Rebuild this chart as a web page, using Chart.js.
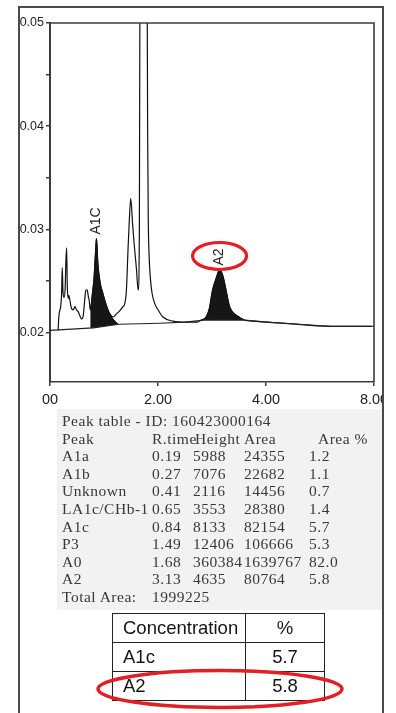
<!DOCTYPE html>
<html>
<head>
<meta charset="utf-8">
<script src="https://cdn.jsdelivr.net/npm/chart.js@4.4.1/dist/chart.umd.min.js"></script>
<style>
  html, body { margin: 0; padding: 0; background: #fff; }
  body { width: 396px; height: 713px; position: relative; overflow: hidden; font-family: "Liberation Sans", Arial, sans-serif; }
  #chartBox { position: absolute; left: 20px; top: 8px; width: 362px; height: 402px; }
  #frame { position: absolute; left: 18px; top: 6px; width: 366px; height: 720px; box-sizing: border-box; border: 2px solid #4a4a4a; border-bottom: none; pointer-events: none; }
  #scan { position: absolute; left: 57px; top: 409px; width: 325px; height: 201px; background: #f2f2f2; }
  .prow { position: absolute; left: 0; width: 396px; height: 18px; line-height: 18px; font-family: "Liberation Serif", "DejaVu Serif", serif; font-size: 15.5px; color: #383838; letter-spacing: 0.5px; white-space: nowrap; }
  .prow span { position: absolute; top: 0; }
  #conc { position: absolute; left: 112px; top: 613px; border-collapse: collapse; font-size: 18.5px; color: #151515; }
  #conc td { border: 1.5px solid #222; height: 28px; padding: 0; line-height: 28px; }
  #conc td.n { width: 122px; padding-left: 10px; text-align: left; }
  #conc td.v { width: 78px; text-align: center; }
  #ring { position: absolute; left: 0; top: 0; }
</style>
</head>
<body>
<div id="chartBox"><canvas id="chrom"></canvas></div>
<div id="scan"></div>
<div id="peakTable"></div>
<table id="conc"></table>
<svg id="ring" width="396" height="713"><ellipse cx="220" cy="689" rx="122" ry="18.5" fill="none" stroke="#e31e24" stroke-width="3.5"/></svg>
<div id="frame"></div>

<script>
// chromatogram trace (retention time in min, absorbance)
const traceX = [0.15, 0.165, 0.18, 0.20, 0.215, 0.227, 0.24, 0.258, 0.28, 0.295, 0.308, 0.32, 0.338, 0.35, 0.369,
  0.40, 0.43, 0.461, 0.49, 0.523, 0.555, 0.584, 0.615, 0.64, 0.664, 0.689, 0.71, 0.726, 0.745,
  0.757, 0.79, 0.812, 0.84, 0.861, 0.885, 0.923, 0.984, 1.058, 1.12, 1.17, 1.23, 1.29, 1.35, 1.384,
  1.415, 1.446, 1.47, 1.495, 1.53, 1.56, 1.60, 1.633, 1.655, 1.665, 1.73, 1.80, 1.81, 1.82, 1.835,
  1.86, 1.89, 1.94, 2.0, 2.09, 2.28, 2.52, 2.73, 2.80, 2.89, 2.95, 3.01, 3.08, 3.14, 3.20, 3.26,
  3.32, 3.38, 3.47, 3.60, 3.75, 4.31, 5.17, 5.96];
const traceY = [0.0202, 0.0216, 0.0221, 0.0226, 0.0238, 0.0263, 0.0240, 0.0234, 0.0242, 0.0270, 0.0282, 0.0245, 0.0233, 0.0236, 0.0231,
  0.0223, 0.0222, 0.0225, 0.0222, 0.0220, 0.0216, 0.0213, 0.0216, 0.0230, 0.0241, 0.0241, 0.0235, 0.0231, 0.0222,
  0.0224, 0.0240, 0.0250, 0.0275, 0.0291, 0.0268, 0.0250, 0.0237, 0.0224, 0.0217, 0.0215, 0.0218, 0.0221, 0.0225, 0.0228,
  0.0241, 0.0282, 0.0310, 0.0330, 0.0305, 0.0285, 0.0262, 0.0241, 0.0300, 0.0520, 0.3600, 0.0520, 0.0380, 0.0310, 0.0275,
  0.0252, 0.0238, 0.0228, 0.0222, 0.0215, 0.0211, 0.0210, 0.0210, 0.0212, 0.0215, 0.0223, 0.0241, 0.0253, 0.0261, 0.0255, 0.0241,
  0.0226, 0.0220, 0.0216, 0.0212, 0.0211, 0.0209, 0.0206, 0.0206];

// drawn baseline under the peaks
const baseX = [0.0, 0.8, 1.27, 2.03, 2.5, 2.85, 3.6, 4.3, 5.2, 6.0];
const baseY = [0.0202, 0.02045, 0.0208, 0.0209, 0.0210, 0.0212, 0.0212, 0.0209, 0.0206, 0.0206];

// integrated (black) peaks
const a1cX = [0.745, 0.757, 0.79, 0.812, 0.84, 0.861, 0.885, 0.923, 0.984, 1.058, 1.12, 1.17, 1.26];
const a1cY = [0.0222, 0.0224, 0.0240, 0.0250, 0.0275, 0.0291, 0.0268, 0.0250, 0.0237, 0.0224, 0.0217, 0.0213, 0.0208];
const a2X = [2.82, 2.89, 2.95, 3.01, 3.08, 3.14, 3.20, 3.26, 3.32, 3.38, 3.47, 3.60];
const a2Y = [0.0212, 0.0215, 0.0223, 0.0241, 0.0253, 0.0261, 0.0255, 0.0241, 0.0226, 0.0220, 0.0216, 0.0212];

const xTicks = [0, 2, 4, 6];
const xTickLabels = ["00", "2.00", "4.00", "8.00"];
const yTicks = [0.02, 0.025, 0.03, 0.035, 0.04, 0.045, 0.05];
const yTickLabels = ["0.02", "", "0.03", "", "0.04", "", "0.05"];

const peakLabels = ["A1C", "A2"];
const peakLabelX = [0.861, 3.14];
const peakLabelY = [0.0291, 0.0261];

// peak table
const peakNames = ["A1a", "A1b", "Unknown", "LA1c/CHb-1", "A1c", "P3", "A0", "A2"];
const peakRT = ["0.19", "0.27", "0.41", "0.65", "0.84", "1.49", "1.68", "3.13"];
const peakHeight = ["5988", "7076", "2116", "3553", "8133", "12406", "360384", "4635"];
const peakArea = ["24355", "22682", "14456", "28380", "82154", "106666", "1639767", "80764"];
const peakPct = ["1.2", "1.1", "0.7", "1.4", "5.7", "5.3", "82.0", "5.8"];

const concNames = ["A1c", "A2"];
const concValues = ["5.7", "5.8"];

const pts = (xs, ys) => xs.map((x, i) => ({ x, y: ys[i] }));

const decor = {
  id: "decor",
  afterDatasetsDraw(chart) {
    const { ctx, chartArea: a, scales: { x, y } } = chart;
    ctx.save();
    ctx.strokeStyle = "#3c3c3c";
    ctx.lineWidth = 1.6;
    ctx.beginPath();
    ctx.moveTo(a.left, a.top);
    ctx.lineTo(a.right, a.top);
    ctx.lineTo(a.right, a.bottom);
    ctx.stroke();

    ctx.font = '14px "Liberation Sans", Arial, sans-serif';
    ctx.fillStyle = "#222";
    peakLabels.forEach((t, i) => {
      const px = x.getPixelForValue(peakLabelX[i]);
      const py = y.getPixelForValue(peakLabelY[i]) - 4;
      const w = ctx.measureText(t).width;
      ctx.save();
      ctx.translate(px, py);
      ctx.rotate(-Math.PI / 2);
      ctx.textAlign = "left";
      ctx.textBaseline = "middle";
      ctx.fillText(t, 0, 0);
      ctx.restore();
      if (t === "A2") {
        ctx.strokeStyle = "#e31e24";
        ctx.lineWidth = 3.2;
        ctx.beginPath();
        ctx.ellipse(px, py - w / 2 - 1, 27, 13.5, 0, 0, Math.PI * 2);
        ctx.stroke();
      }
    });
    ctx.restore();
  }
};

new Chart(document.getElementById("chrom"), {
  type: "line",
  data: {
    datasets: [
      { data: pts(baseX, baseY), borderColor: "#222", borderWidth: 1.1, pointRadius: 0, fill: false },
      { data: pts(a1cX, a1cY), borderColor: "#111", backgroundColor: "#161616", borderWidth: 1, pointRadius: 0, fill: 0, cubicInterpolationMode: "monotone" },
      { data: pts(a2X, a2Y), borderColor: "#111", backgroundColor: "#161616", borderWidth: 1, pointRadius: 0, fill: 0, cubicInterpolationMode: "monotone" },
      { data: pts(traceX, traceY), borderColor: "#111", borderWidth: 1.2, pointRadius: 0, fill: false, cubicInterpolationMode: "monotone" },
    ],
  },
  options: {
    responsive: true,
    maintainAspectRatio: false,
    animation: false,
    devicePixelRatio: 1,
    layout: { padding: { top: 15, right: 8, left: 0, bottom: 0 } },
    plugins: { legend: { display: false }, tooltip: { enabled: false } },
    scales: {
      x: {
        type: "linear",
        min: 0,
        max: 6,
        afterBuildTicks: (s) => { s.ticks = xTicks.map((v) => ({ value: v })); },
        afterFit: (s) => { s.height = 28; s.paddingLeft = 0; s.paddingRight = 0; },
        ticks: {
          autoSkip: false,
          maxRotation: 0,
          padding: 5,
          color: "#222",
          font: { family: "Liberation Sans", size: 14.5 },
          callback: (v, i) => xTickLabels[i],
        },
        grid: { drawOnChartArea: false, tickLength: 4, color: "#3c3c3c", lineWidth: 1.5 },
        border: { color: "#3c3c3c", width: 1.6 },
      },
      y: {
        min: 0.0152,
        max: 0.05,
        afterBuildTicks: (s) => { s.ticks = yTicks.map((v) => ({ value: v })); },
        afterFit: (s) => { s.width = 30; },
        ticks: {
          autoSkip: false,
          padding: 2,
          color: "#222",
          font: { family: "Liberation Sans", size: 12.5 },
          callback: (v, i) => yTickLabels[i],
        },
        grid: { drawOnChartArea: false, tickLength: 4, color: "#3c3c3c", lineWidth: 1.5 },
        border: { color: "#3c3c3c", width: 2 },
      },
    },
  },
  plugins: [decor],
});

// peak table rows
const table = document.getElementById("peakTable");
const colLeft = [62, 152, 193, 244, 309];
function addRow(y, cells, lefts) {
  const row = document.createElement("div");
  row.className = "prow";
  row.style.top = (y - 9) + "px";
  cells.forEach((c, i) => {
    const s = document.createElement("span");
    s.textContent = c;
    s.style.left = lefts[i] + "px";
    row.appendChild(s);
  });
  table.appendChild(row);
}
const rowStep = 17.6;
addRow(421, ["Peak table - ID: 160423000164"], [62]);
addRow(421 + rowStep, ["Peak", "R.time", "Height", "Area", "Area %"], [62, 152, 195, 244, 318]);
peakNames.forEach((n, i) => {
  addRow(421 + rowStep * (i + 2), [n, peakRT[i], peakHeight[i], peakArea[i], peakPct[i]], colLeft);
});
addRow(421 + rowStep * 10, ["Total Area:", "1999225"], [62, 152]);

// concentration table
const conc = document.getElementById("conc");
conc.innerHTML = `<tr><td class="n">Concentration</td><td class="v">%</td></tr>` +
  concNames.map((n, i) => `<tr><td class="n">${n}</td><td class="v">${concValues[i]}</td></tr>`).join("");
</script>
</body>
</html>
